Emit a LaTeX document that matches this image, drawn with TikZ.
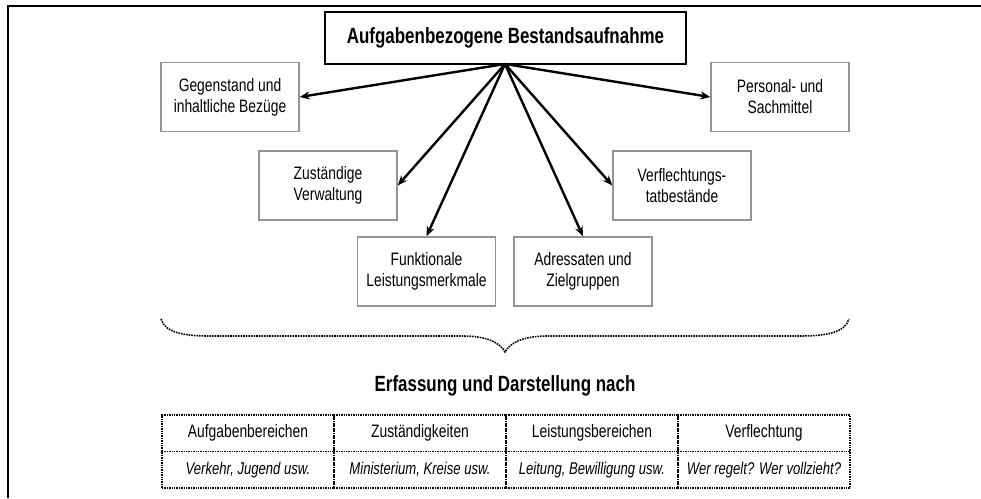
\documentclass[tikz,border=0pt]{standalone}
\usepackage{fontspec}
\setmainfont{Liberation Sans}[FakeStretch=0.77]
\usetikzlibrary{arrows.meta}
\begin{document}
\begin{tikzpicture}[x=1pt,y=-1pt,
  font=\fontsize{18}{21}\selectfont,
  itembox/.style={draw=black!42,line width=1.4pt,minimum width=138pt,minimum height=69pt,
    align=center,inner sep=0pt},
  titlebox/.style={draw=black,line width=2pt,minimum width=361pt,minimum height=52pt,
    inner sep=0pt,font=\fontsize{22}{24}\selectfont\bfseries},
  link/.style={line width=2.4pt,-{Stealth[length=10pt,width=8pt]}},
  cell/.style={draw=black,densely dotted,line width=1.4pt,minimum width=172pt,
    minimum height=36.5pt,inner sep=0pt},
  note/.style={cell,font=\fontsize{17}{20}\selectfont\itshape},
  brace/.style={densely dotted,line width=1.6pt}]
\useasboundingbox (0,0) rectangle (981,498);
% open frame
\draw[line width=2.4pt] (8,498) -- (8,6) -- (981,6);
% central item and its aspects
\node[titlebox] (top) at (505.5,38) {Aufgabenbezogene Bestandsaufnahme};
\coordinate (hub) at (505,64);
\node[itembox] (gegen) at (230,97) {Gegenstand und\\inhaltliche Bezüge};
\node[itembox] (pers) at (780,97) {Personal- und\\Sachmittel};
\node[itembox] (zust) at (328,185.5) {Zuständige\\Verwaltung};
\node[itembox] (verf) at (682,185.5) {Verflechtungs-\\tatbestände};
\node[itembox] (funk) at (426.5,271.5) {Funktionale\\Leistungsmerkmale};
\node[itembox] (adr) at (583,271.5) {Adressaten und\\Zielgruppen};
\draw[link] (hub) -- (gegen.east);
\draw[link] (hub) -- (pers.west);
\draw[link] (hub) -- (zust.east);
\draw[link] (hub) -- (verf.west);
\draw[link] (hub) -- (funk.north);
\draw[link] (hub) -- (adr.north);
% gathering brace
\draw[brace] (161,319) .. controls (165,333) and (185,336) .. (210,336)
  -- (462,336) .. controls (488,336) and (500,343) .. (505,352)
  .. controls (510,343) and (522,336) .. (548,336)
  -- (800,336) .. controls (825,336) and (845,333) .. (849,319);
\node[font=\fontsize{22}{24}\selectfont\bfseries] (head) at (505,386) {Erfassung und Darstellung nach};
% table of categories
\node[cell] (c1) at (248,433.25) {Aufgabenbereichen};
\node[cell] (c2) at (420,433.25) {Zuständigkeiten};
\node[cell] (c3) at (592,433.25) {Leistungsbereichen};
\node[cell] (c4) at (764,433.25) {Verflechtung};
\node[note] (n1) at (248,469.75) {Verkehr, Jugend usw.};
\node[note] (n2) at (420,469.75) {Ministerium, Kreise usw.};
\node[note] (n3) at (592,469.75) {Leitung, Bewilligung usw.};
\node[note] (n4) at (764,469.75) {Wer regelt? Wer vollzieht?};
\end{tikzpicture}
\end{document}
